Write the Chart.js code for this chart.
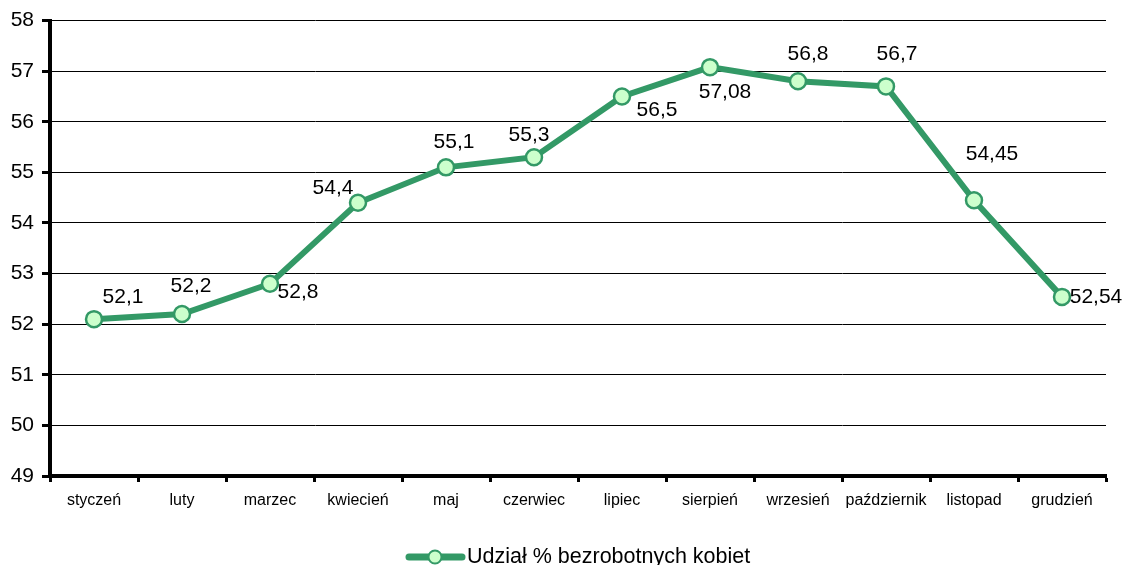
<!DOCTYPE html>
<html>
<head>
<meta charset="utf-8">
<script src="https://cdn.jsdelivr.net/npm/chart.js@4/dist/chart.umd.min.js"></script>
<style>
  html, body { margin: 0; padding: 0; background: #fff; overflow: hidden; }
  #wrap { width: 1125px; height: 565px; position: relative; }
</style>
</head>
<body>
<div id="wrap"><canvas id="c" width="1125" height="565"></canvas></div>
<script>
const months = ['styczeń', 'luty', 'marzec', 'kwiecień', 'maj', 'czerwiec', 'lipiec', 'sierpień', 'wrzesień', 'październik', 'listopad', 'grudzień'];
const sharePct = [52.1, 52.2, 52.8, 54.4, 55.1, 55.3, 56.5, 57.08, 56.8, 56.7, 54.45, 52.54];
const seriesName = 'Udział % bezrobotnych kobiet';
const yMin = 49, yMax = 58, yStep = 1;

const FONT = "'Liberation Sans', Arial, sans-serif";
const GREEN = '#339966';
const LIGHT = '#ccffcc';

// label placement (offset of label centre from its point, px)
const labelPlacement = [
  [29, -22], [9, -28], [28, 8], [-25, -15], [8, -25], [-5, -22],
  [35, 14], [15, 25], [10, -27], [11, -32], [18, -46], [34, 0]
];

const dataLabels = {
  id: 'dataLabels',
  afterDatasetsDraw(chart) {
    const ctx = chart.ctx;
    const meta = chart.getDatasetMeta(0);
    ctx.save();
    ctx.font = '21px ' + FONT;
    ctx.fillStyle = '#000';
    ctx.textAlign = 'center';
    ctx.textBaseline = 'middle';
    meta.data.forEach((pt, i) => {
      const v = chart.data.datasets[0].data[i];
      const [dx, dy] = labelPlacement[i];
      ctx.fillText(String(v).replace('.', ','), pt.x + dx, pt.y + dy);
    });
    ctx.restore();
  }
};

const customLegend = {
  id: 'customLegend',
  afterDraw(chart) {
    const ctx = chart.ctx;
    const ds = chart.data.datasets[0];
    const y = 557;
    ctx.save();
    ctx.strokeStyle = ds.borderColor;
    ctx.lineWidth = 7;
    ctx.lineCap = 'round';
    ctx.beginPath();
    ctx.moveTo(409, y);
    ctx.lineTo(462, y);
    ctx.stroke();
    ctx.beginPath();
    ctx.arc(435, y, 6.5, 0, Math.PI * 2);
    ctx.fillStyle = ds.pointBackgroundColor;
    ctx.fill();
    ctx.lineWidth = 2;
    ctx.strokeStyle = ds.pointBorderColor;
    ctx.stroke();
    ctx.font = '21.5px ' + FONT;
    ctx.fillStyle = '#000';
    ctx.textAlign = 'left';
    ctx.textBaseline = 'middle';
    ctx.fillText(ds.label, 467, y);
    ctx.restore();
  }
};

new Chart(document.getElementById('c'), {
  type: 'line',
  data: {
    labels: months,
    datasets: [{
      label: seriesName,
      data: sharePct,
      borderColor: GREEN,
      borderWidth: 6,
      pointRadius: 8,
      pointHoverRadius: 8,
      pointBackgroundColor: LIGHT,
      pointBorderColor: GREEN,
      pointBorderWidth: 2.5,
      tension: 0,
      clip: false
    }]
  },
  options: {
    responsive: false,
    animation: false,
    events: [],
    layout: { padding: { top: 20, right: 19, bottom: 44, left: 0 } },
    plugins: { legend: { display: false }, tooltip: { enabled: false } },
    scales: {
      x: {
        offset: true,
        afterFit(s) { s.height = 45; },
        grid: {
          offset: true,
          drawOnChartArea: false,
          drawTicks: true,
          tickLength: 6,
          tickWidth: 3,
          tickColor: '#000'
        },
        border: { display: true, color: '#000', width: 4 },
        ticks: {
          color: '#000',
          font: { family: FONT, size: 16 },
          padding: 9,
          maxRotation: 0,
          autoSkip: false
        }
      },
      y: {
        min: yMin,
        max: yMax,
        afterFit(s) { s.width = 50; },
        grid: {
          color: '#000',
          lineWidth: 1,
          drawTicks: true,
          tickLength: 8,
          tickWidth: 3,
          tickColor: '#000'
        },
        border: { display: true, color: '#000', width: 4 },
        ticks: {
          stepSize: yStep,
          color: '#000',
          font: { family: FONT, size: 21 },
          padding: 8
        }
      }
    }
  },
  plugins: [dataLabels, customLegend]
});
</script>
</body>
</html>
